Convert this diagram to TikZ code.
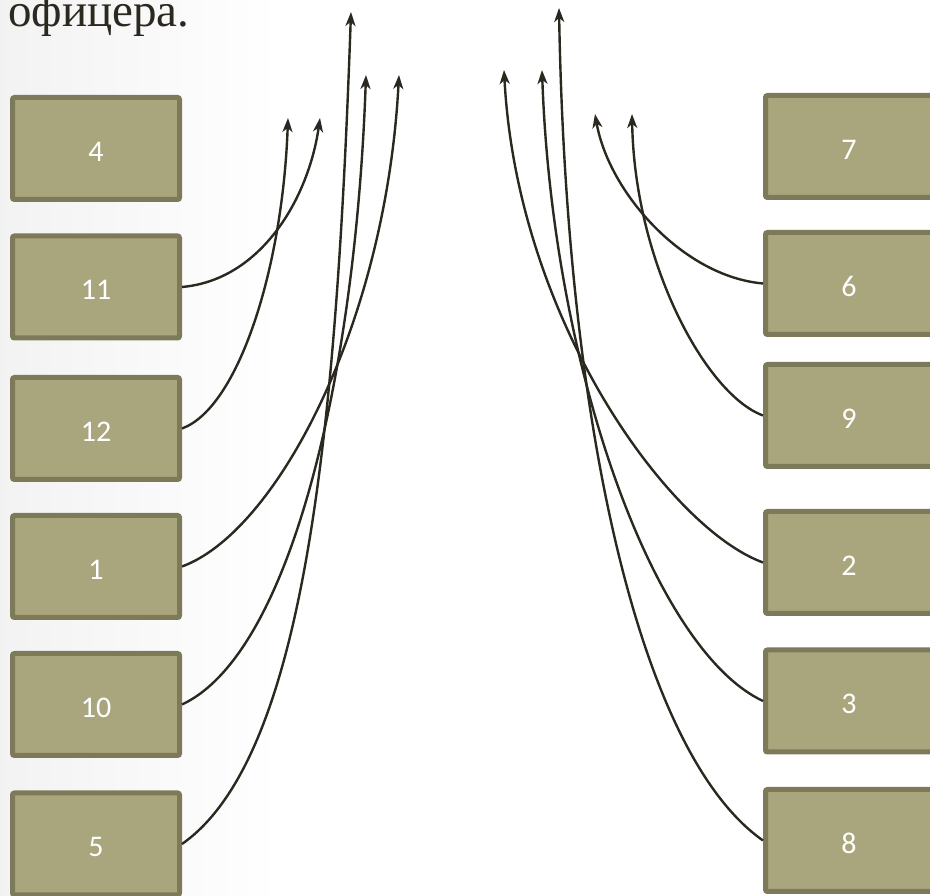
\documentclass[tikz,border=0pt]{standalone}
\usepackage{fontspec}
\setmainfont{Liberation Serif}
\newfontfamily\numfont{Carlito}
\usetikzlibrary{arrows.meta}
\tikzset{>={Stealth[length=14pt,width=10pt,inset=4pt]}}
\definecolor{myolive}{RGB}{169,166,125}
\definecolor{myoliveline}{RGB}{125,122,90}
\definecolor{mydark}{RGB}{43,40,32}
\tikzset{
  box/.style={draw=myoliveline,fill=myolive,line width=5pt,rounded corners=2pt,
    minimum width=167pt,minimum height=102pt,inner sep=0pt,text=white,
    text height=26pt,text depth=0pt,
    font=\numfont\fontsize{30}{30}\selectfont},
  link/.style={->,draw=mydark,line width=2.4pt},
}

\begin{document}
\begin{tikzpicture}[x=1pt,y=1pt]
  \useasboundingbox (0,0) rectangle (930,896);

  % slide background
  \shade[left color=black!5,right color=white] (0,0) rectangle (280,896);

  % heading, cut at the top
  \node[anchor=base west,inner sep=0pt,text=mydark,
    font=\fontsize{47}{47}\selectfont] (head) at (8,869) {офицера.};

  % left column
  \node[box] (b4)  at (96,747.5) {4};
  \node[box] (b11) at (96,609)   {11};
  \node[box] (b12) at (96,467.5) {12};
  \node[box] (b1)  at (96,329.5) {1};
  \node[box] (b10) at (96,191.5) {10};
  \node[box] (b5)  at (96,52)    {5};

  % right column
  \node[box] (b7) at (849,749.5) {7};
  \node[box] (b6) at (849,612.5) {6};
  \node[box] (b9) at (849,480.5) {9};
  \node[box] (b2) at (849,333.5) {2};
  \node[box] (b3) at (849,195)   {3};
  \node[box] (b8) at (849,55.5)  {8};

  % free arrow ends
  \coordinate (t12) at (288,778);
  \coordinate (t11) at (320,778);
  \coordinate (t5)  at (351,884);
  \coordinate (t10) at (366,821);
  \coordinate (t1)  at (399,821);
  \coordinate (t2)  at (504,826);
  \coordinate (t3)  at (542,826);
  \coordinate (t8)  at (559,888);
  \coordinate (t6)  at (595,782);
  \coordinate (t9)  at (632,782);

  % arrows, left
  \draw[link] (b11.east) to[out=5,in=-98,out distance=80,in distance=80] (t11);
  \draw[link] (b12.east) to[out=20,in=-92,out distance=60,in distance=150] (t12);
  \draw[link] (b1.east)  to[out=20,in=-93,out distance=100,in distance=250] (t1);
  \draw[link] (b10.east) to[out=25,in=-92,out distance=120,in distance=300] (t10);
  \draw[link] (b5.east)  to[out=35,in=-92,out distance=150,in distance=420] (t5);

  % arrows, right
  \draw[link] (b6.west) to[out=175,in=-80,out distance=80,in distance=80] (t6);
  \draw[link] (b9.west) to[out=160,in=-89,out distance=60,in distance=150] (t9);
  \draw[link] (b2.west) to[out=160,in=-87,out distance=100,in distance=250] (t2);
  \draw[link] (b3.west) to[out=155,in=-88,out distance=120,in distance=300] (t3);
  \draw[link] (b8.west) to[out=145,in=-89,out distance=150,in distance=420] (t8);

\end{tikzpicture}
\end{document}
